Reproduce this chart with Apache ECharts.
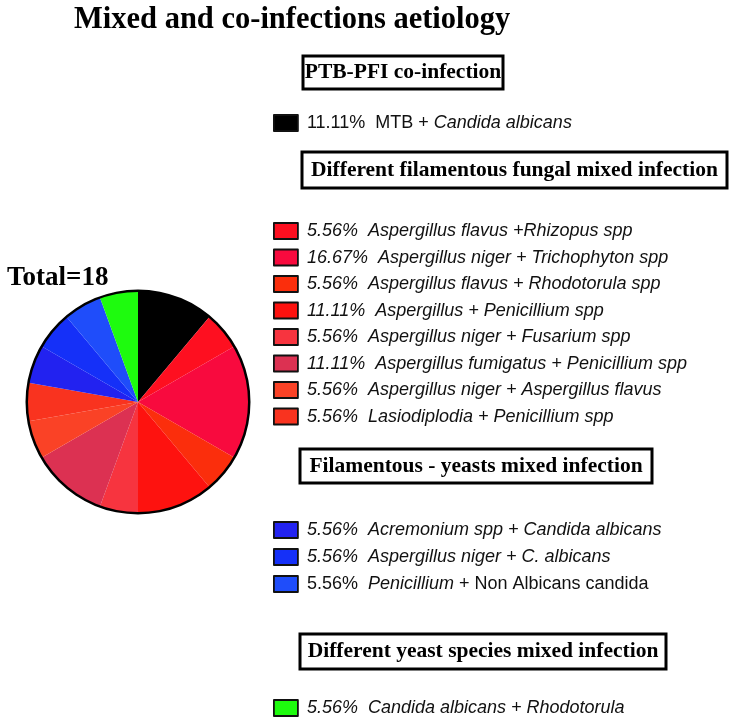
<!DOCTYPE html>
<html>
<head>
<meta charset="utf-8">
<script src="https://cdn.jsdelivr.net/npm/echarts@6/dist/echarts.min.js"></script>
<style>
  html, body { margin: 0; padding: 0; background: #fff; }
  #chart { width: 731px; height: 718px; }
</style>
</head>
<body>
<div id="chart"></div>
<script>
// data
const categories = [
  "MTB + Candida albicans",
  "Aspergillus flavus +Rhizopus spp",
  "Aspergillus niger + Trichophyton spp",
  "Aspergillus flavus + Rhodotorula spp",
  "Aspergillus + Penicillium spp",
  "Aspergillus niger + Fusarium spp",
  "Aspergillus fumigatus + Penicillium spp",
  "Aspergillus niger + Aspergillus flavus",
  "Lasiodiplodia + Penicillium spp",
  "Acremonium spp + Candida albicans",
  "Aspergillus niger + C. albicans",
  "Penicillium + Non Albicans candida",
  "Candida albicans + Rhodotorula"
];
const counts = [2, 1, 3, 1, 2, 1, 2, 1, 1, 1, 1, 1, 1];
const colors = [
  "#000000", "#fe0f20", "#f80a3e", "#fb2e0c", "#fe120f", "#f7343f",
  "#dc3152", "#fa4226", "#f9331f", "#2222f0", "#1530f8", "#1f4dfa", "#1efb0e"
];
const groupTitles = [
  "PTB-PFI co-infection",
  "Different filamentous fungal mixed infection",
  "Filamentous - yeasts mixed infection",
  "Different yeast species mixed infection"
];
const groupItems = [[0], [1, 2, 3, 4, 5, 6, 7, 8], [9, 10, 11], [12]];

const total = counts.reduce((a, b) => a + b, 0);
const pct = (i) => (counts[i] / total * 100).toFixed(2) + "%";

// how each legend line is set (upright / italic pieces)
function legendText(name) {
  const i = categories.indexOf(name);
  if (i === 0) return "{n|" + pct(i) + "  MTB + }{i|Candida albicans}";
  if (i === 11) return "{n|" + pct(i) + "  }{i|Penicillium}{n| + Non Albicans candida}";
  return "{i|" + pct(i) + "  " + name + "}";
}

const legendFont = "'Liberation Sans', Arial, sans-serif";
const richStyles = {
  n: { fontFamily: legendFont, fontSize: 18, color: "#111" },
  i: { fontFamily: legendFont, fontSize: 18, color: "#111", fontStyle: "italic" }
};

// legend placement per group
const legendTops = [109, 217, 516, 694];
const legendGaps = [8.5, 8.5, 9, 8.5];
const boxes = [
  { x: 303, y: 56, w: 200, h: 33 },
  { x: 302, y: 152, w: 425, h: 36 },
  { x: 300, y: 449, w: 352, h: 34 },
  { x: 300, y: 634, w: 366, h: 35 }
];

const legends = groupItems.map((idx, g) => ({
  data: idx.map(i => categories[i]),
  orient: "vertical",
  left: 268,
  top: legendTops[g],
  itemWidth: 24,
  itemHeight: 16,
  itemGap: legendGaps[g],
  icon: "rect",
  selectedMode: false,
  itemStyle: { borderColor: "#111", borderWidth: 1.8 },
  formatter: legendText,
  textStyle: { padding: [0, 0, 0, 4], rich: richStyles }
}));

const graphics = [];
boxes.forEach((b, g) => {
  graphics.push({
    type: "rect",
    shape: { x: b.x, y: b.y, width: b.w, height: b.h },
    style: { fill: "#fff", stroke: "#000", lineWidth: 3 }
  });
  graphics.push({
    type: "text",
    x: b.x + b.w / 2,
    y: b.y + b.h / 2,
    style: {
      text: groupTitles[g],
      font: "bold 21.5px 'Liberation Serif', 'Times New Roman', serif",
      fill: "#000",
      align: "center",
      verticalAlign: "middle"
    }
  });
});

const chart = echarts.init(document.getElementById("chart"));
chart.setOption({
  animation: false,
  color: colors,
  title: [
    {
      text: "Mixed and co-infections aetiology",
      left: 69,
      top: 0,
      textStyle: { fontFamily: "'Liberation Serif', 'Times New Roman', serif", fontWeight: "bold", fontSize: 30.5, color: "#000" }
    },
    {
      text: "Total=" + total,
      left: 2,
      top: 260,
      textStyle: { fontFamily: "'Liberation Serif', 'Times New Roman', serif", fontWeight: "bold", fontSize: 27, color: "#000" }
    }
  ],
  legend: legends,
  graphic: graphics,
  series: [
    {
      type: "pie",
      center: [138, 402],
      radius: [0, 111],
      startAngle: 90,
      clockwise: true,
      silent: true,
      label: { show: false },
      labelLine: { show: false },
      itemStyle: { borderWidth: 0 },
      data: categories.map((name, i) => ({ name, value: counts[i] }))
    },
    {
      // black outline round the pie
      type: "pie",
      center: [138, 402],
      radius: [110, 112.5],
      silent: true,
      label: { show: false },
      labelLine: { show: false },
      itemStyle: { color: "#000" },
      data: [{ name: "outline", value: total }]
    }
  ]
});
</script>
</body>
</html>
